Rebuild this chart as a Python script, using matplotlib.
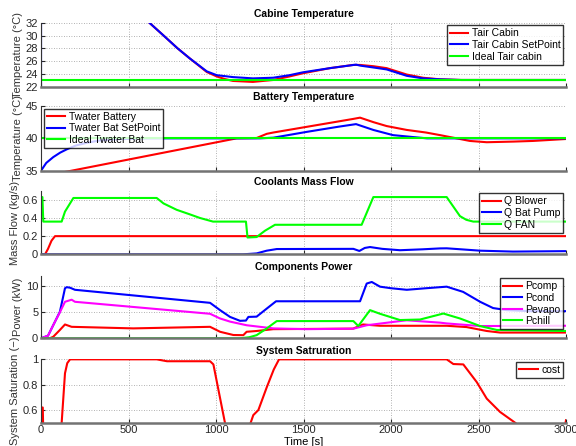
import numpy as np
import matplotlib
matplotlib.use("Agg")
import matplotlib.pyplot as plt

# Cabine temperature
t_cab_red = [0, 300, 500, 623, 700, 780, 851, 947, 1004, 1050, 1097, 1211, 1326, 1420, 1497, 1651, 1783, 1823, 1900, 1975, 2090, 2183, 2280, 2400, 3000]
T_cab_red = [48, 40, 35, 31.9, 30.0, 28.0, 26.4, 24.3, 23.6, 23.2, 22.9, 22.75, 23.05, 23.6, 24.1, 24.9, 25.4, 25.4, 25.2, 24.9, 23.9, 23.4, 23.15, 23.05, 23.05]
t_cab_blue = [0, 0.5, 300, 500, 623, 700, 780, 851, 947, 1004, 1097, 1211, 1326, 1420, 1497, 1651, 1800, 1823, 1900, 1975, 2090, 2183, 2280, 2400, 3000]
T_cab_blue = [20, 48, 40, 35, 31.9, 30.0, 28.0, 26.4, 24.4, 23.8, 23.5, 23.3, 23.4, 23.8, 24.25, 24.9, 25.45, 25.3, 25.0, 24.7, 23.7, 23.3, 23.15, 23.05, 23.05]
t_cab_ideal = [0, 3000]
T_cab_ideal = [23, 23]

# Battery temperature
t_bat_red = [0, 175, 1118, 1232, 1290, 1327, 1783, 1823, 1900, 1975, 2090, 2200, 2280, 2375, 2450, 2547, 2700, 2811, 3000]
T_bat_red = [34.1, 35, 40, 40.05, 40.7, 40.9, 43.0, 43.2, 42.5, 41.9, 41.3, 40.9, 40.5, 40.0, 39.6, 39.4, 39.5, 39.6, 39.9]
t_bat_blue = [0, 30, 70, 110, 147, 200, 260, 330, 420, 600, 1250, 1327, 1518, 1700, 1800, 1899, 2011, 2126, 2206, 3000]
T_bat_blue = [35, 36.2, 37.1, 37.8, 38.3, 38.9, 39.3, 39.65, 39.85, 40, 40, 40.1, 41.0, 41.8, 42.2, 41.3, 40.5, 40.2, 40.0, 40.0]
t_bat_ideal = [0, 3000]
T_bat_ideal = [40, 40]

# Coolants mass flow
t_blower = [0, 23, 40, 60, 80, 3000]
q_blower = [0, 0, 0.06, 0.15, 0.2, 0.2]
t_pump = [0, 1156, 1232, 1290, 1347, 1785, 1819, 1850, 1880, 1950, 2051, 2180, 2280, 2318, 2400, 2509, 2697, 3000]
q_pump = [0, 0, 0.01, 0.04, 0.058, 0.06, 0.037, 0.07, 0.08, 0.06, 0.045, 0.055, 0.065, 0.066, 0.055, 0.04, 0.03, 0.035]
t_fan = [0, 8, 13, 118, 137, 185, 661, 700, 775, 850, 908, 983, 1171, 1180, 1232, 1280, 1337, 1832, 1899, 2318, 2394, 2430, 2470, 3000]
q_fan = [0.63, 0.63, 0.36, 0.36, 0.47, 0.62, 0.62, 0.56, 0.49, 0.44, 0.40, 0.36, 0.36, 0.185, 0.19, 0.26, 0.325, 0.325, 0.63, 0.63, 0.42, 0.38, 0.36, 0.36]

# Components power
t_comp = [0, 50, 70, 108, 137, 175, 527, 966, 1023, 1099, 1156, 1175, 1232, 1327, 1783, 1840, 1937, 2318, 2432, 2547, 2623, 3000]
p_comp = [0, 0, 0.3, 1.6, 2.65, 2.2, 1.9, 2.2, 1.25, 0.63, 0.6, 1.25, 1.4, 1.75, 1.85, 2.65, 2.4, 2.4, 2.15, 1.4, 1.1, 1.1]
t_cond = [0, 40, 80, 108, 137, 147, 166, 194, 966, 1023, 1080, 1137, 1171, 1185, 1232, 1290, 1343, 1823, 1861, 1890, 1937, 2000, 2090, 2200, 2318, 2412, 2509, 2583, 2661, 2800, 3000]
p_cond = [0, 0.5, 3.2, 5.1, 9.6, 9.8, 9.7, 9.3, 6.8, 5.4, 4.1, 3.35, 3.4, 4.1, 4.15, 5.7, 7.1, 7.1, 10.5, 10.8, 9.9, 9.6, 9.3, 9.6, 9.9, 8.9, 7.0, 5.8, 5.4, 5.2, 5.2]
t_evap = [0, 40, 80, 108, 137, 175, 194, 966, 1023, 1080, 1175, 1327, 1518, 1785, 1861, 2051, 2090, 2280, 2318, 2509, 3000]
p_evap = [0, 0.5, 3.2, 5.0, 7.0, 7.4, 7.0, 4.7, 3.8, 3.2, 2.5, 1.9, 1.75, 1.85, 2.5, 3.3, 3.45, 3.0, 2.85, 2.35, 2.4]
t_chill = [0, 1137, 1190, 1232, 1290, 1347, 1785, 1813, 1880, 1937, 2051, 2166, 2299, 2394, 2509, 2604, 3000]
p_chill = [0, 0, 0.2, 0.6, 1.9, 3.3, 3.3, 2.35, 5.4, 4.7, 3.5, 3.6, 4.75, 3.8, 2.35, 1.6, 1.4]

# System saturation
t_sat = [0, 5, 10, 15, 100, 118, 137, 150, 166, 661, 720, 966, 985, 1051, 1100, 1180, 1198, 1213, 1242, 1290, 1330, 1360, 2318, 2356, 2413, 2490, 2547, 2623, 2709, 2800, 2990, 3000]
s_sat = [0.3, 0.62, 0.62, 0.3, 0.3, 0.5, 0.89, 0.97, 1.0, 1.0, 0.985, 0.985, 0.96, 0.5, 0.3, 0.3, 0.5, 0.56, 0.6, 0.78, 0.92, 1.0, 1.0, 0.963, 0.96, 0.82, 0.69, 0.585, 0.5, 0.4, 0.45, 0.52]

xticks = [0, 500, 1000, 1500, 2000, 2500, 3000]

plt.rcParams['font.family'] = ['Liberation Sans', 'DejaVu Sans']
fig = plt.figure(figsize=(5.76, 4.46), dpi=100)

left, width = 0.0712, 0.9115
boxes = [(0.8056, 0.1435), (0.6173, 0.145), (0.4298, 0.1426), (0.2415, 0.1403), (0.0522, 0.1421)]
axs = [fig.add_axes([left, b, width, h]) for b, h in boxes]

lw = 1.5
R, B, G, M = '#ff0000', '#0000ff', '#00ff00', '#ff00ff'

def style(ax, title, ylabel, ylim, yticks, ylabels):
    ax.set_xlim(0, 3000)
    ax.set_ylim(*ylim)
    ax.set_xticks(xticks)
    ax.set_yticks(yticks)
    ax.set_yticklabels(ylabels)
    ax.spines['top'].set_visible(False)
    ax.spines['right'].set_visible(False)
    ax.spines['left'].set_color('0.2')
    ax.spines['bottom'].set_color('0.45')
    ax.spines['bottom'].set_linewidth(1.8)
    ax.tick_params(direction='in', length=3, labelsize=8, pad=2, colors='0.15')
    ax.grid(True, linestyle=(0, (1, 2)), color='0.6', linewidth=0.6)
    ax.set_axisbelow(True)
    ax.set_title(title, fontsize=7.5, fontweight='bold', pad=4)
    ax.set_ylabel(ylabel, fontsize=8, labelpad=2, color='0.2')

def leg(ax, loc):
    l = ax.legend(loc=loc, fontsize=7.5, frameon=True, fancybox=False, borderaxespad=0.25,
                  handlelength=1.8, handletextpad=0.3, labelspacing=0.15, borderpad=0.3)
    l.get_frame().set_edgecolor('black')
    l.get_frame().set_linewidth(1.0)

ax = axs[0]
ax.plot(t_cab_red, T_cab_red, color=R, lw=lw, label='Tair Cabin')
ax.plot(t_cab_blue, T_cab_blue, color=B, lw=lw, label='Tair Cabin SetPoint')
ax.plot(t_cab_ideal, T_cab_ideal, color=G, lw=lw, label='Ideal Tair cabin')
style(ax, 'Cabine Temperature', 'Temperature (°C)', (22, 32), [22, 24, 26, 28, 30, 32], ['22', '24', '26', '28', '30', '32'])
ax.set_xticklabels([])
leg(ax, 'upper right')

ax = axs[1]
ax.plot(t_bat_red, T_bat_red, color=R, lw=lw, label='Twater Battery')
ax.plot(t_bat_blue, T_bat_blue, color=B, lw=lw, label='Twater Bat SetPoint')
ax.plot(t_bat_ideal, T_bat_ideal, color=G, lw=lw, label='Ideal Twater Bat')
style(ax, 'Battery Temperature', 'Temperature (°C)', (35, 45), [35, 40, 45], ['35', '40', '45'])
ax.set_xticklabels([])
leg(ax, 'upper left')

ax = axs[2]
ax.plot(t_blower, q_blower, color=R, lw=lw, label='Q Blower')
ax.plot(t_pump, q_pump, color=B, lw=lw, label='Q Bat Pump')
ax.plot(t_fan, q_fan, color=G, lw=lw, label='Q FAN')
style(ax, 'Coolants Mass Flow', 'Mass Flow (kg/s)', (0, 0.7), [0, 0.2, 0.4, 0.6], ['0', '0.2', '0.4', '0.6'])
ax.set_xticklabels([])
leg(ax, 'upper right')

ax = axs[3]
ax.plot(t_comp, p_comp, color=R, lw=lw, label='Pcomp')
ax.plot(t_cond, p_cond, color=B, lw=lw, label='Pcond')
ax.plot(t_evap, p_evap, color=M, lw=lw, label='Pevapo')
ax.plot(t_chill, p_chill, color=G, lw=lw, label='Pchill')
style(ax, 'Components Power', 'Power (kW)', (0, 12), [0, 5, 10], ['0', '5', '10'])
ax.set_xticklabels([])
leg(ax, 'upper right')

ax = axs[4]
ax.plot(t_sat, s_sat, color=R, lw=lw, label='cost')
style(ax, 'System Satruration', 'System Saturation (\u2212)', (0.5, 1.0), [0.6, 0.8, 1.0], ['0.6', '0.8', '1'])
ax.set_xticklabels([str(x) for x in xticks])
ax.set_xlabel('Time [s]', fontsize=8, labelpad=1)
leg(ax, 'upper right')

fig.savefig('out.png', dpi=100)
